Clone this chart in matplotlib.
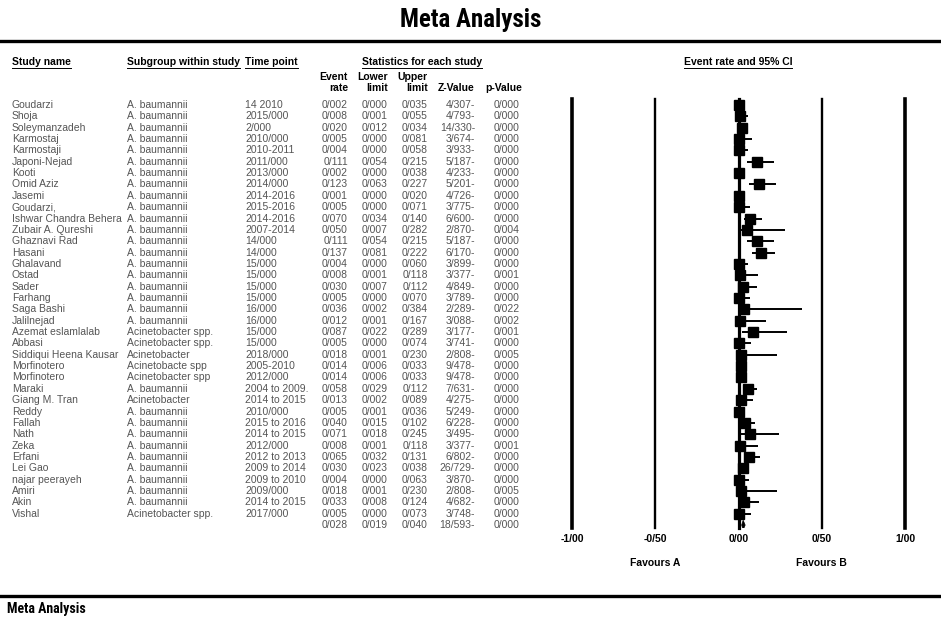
import numpy as np
import matplotlib
matplotlib.use("Agg")
import matplotlib.pyplot as plt
from matplotlib.transforms import blended_transform_factory
from matplotlib.lines import Line2D

# study table
names = ["Goudarzi", "Shoja", "Soleymanzadeh", "Karmostaj", "Karmostaji", "Japoni-Nejad",
         "Kooti", "Omid Aziz", "Jasemi", "Goudarzi,", "Ishwar Chandra Behera",
         "Zubair A. Qureshi", "Ghaznavi Rad", "Hasani", "Ghalavand", "Ostad", "Sader",
         "Farhang", "Saga Bashi", "Jalilnejad", "Azemat eslamlalab", "Abbasi",
         "Siddiqui Heena Kausar", "Morfinotero", "Morfinotero", "Maraki", "Giang M. Tran",
         "Reddy", "Fallah", "Nath", "Zeka", "Erfani", "Lei Gao", "najar peerayeh",
         "Amiri", "Akin", "Vishal"]
subgroups = ["A. baumannii"] * 20 + ["Acinetobacter spp.", "Acinetobacter spp.",
             "Acinetobacter", "Acinetobacte spp", "Acinetobacter spp", "A. baumannii",
             "Acinetobacter"] + ["A. baumannii"] * 9 + ["Acinetobacter spp."]
time_points = ["14 2010", "2015/000", "2/000", "2010/000", "2010-2011", "2011/000",
               "2013/000", "2014/000", "2014-2016", "2015-2016", "2014-2016", "2007-2014",
               "14/000", "14/000", "15/000", "15/000", "15/000", "15/000", "16/000",
               "16/000", "15/000", "15/000", "2018/000", "2005-2010", "2012/000",
               "2004 to 2009.", "2014 to 2015", "2010/000", "2015 to 2016",
               "2014 to 2015", "2012/000", "2012 to 2013", "2009 to 2014",
               "2009 to 2010", "2009/000", "2014 to 2015", "2017/000"]
rate = [0.002, 0.008, 0.020, 0.005, 0.004, 0.111, 0.002, 0.123, 0.001, 0.005, 0.070,
        0.050, 0.111, 0.137, 0.004, 0.008, 0.030, 0.005, 0.036, 0.012, 0.087, 0.005,
        0.018, 0.014, 0.014, 0.058, 0.013, 0.005, 0.040, 0.071, 0.008, 0.065, 0.030,
        0.004, 0.018, 0.033, 0.005]
lower = [0.000, 0.001, 0.012, 0.000, 0.000, 0.054, 0.000, 0.063, 0.000, 0.000, 0.034,
         0.007, 0.054, 0.081, 0.000, 0.001, 0.007, 0.000, 0.002, 0.001, 0.022, 0.000,
         0.001, 0.006, 0.006, 0.029, 0.002, 0.001, 0.015, 0.018, 0.001, 0.032, 0.023,
         0.000, 0.001, 0.008, 0.000]
upper = [0.035, 0.055, 0.034, 0.081, 0.058, 0.215, 0.038, 0.227, 0.020, 0.071, 0.140,
         0.282, 0.215, 0.222, 0.060, 0.118, 0.112, 0.070, 0.384, 0.167, 0.289, 0.074,
         0.230, 0.033, 0.033, 0.112, 0.089, 0.036, 0.102, 0.245, 0.118, 0.131, 0.038,
         0.063, 0.230, 0.124, 0.073]
z_value = [-4.307, -4.793, -14.330, -3.674, -3.933, -5.187, -4.233, -5.201, -4.726,
           -3.775, -6.600, -2.870, -5.187, -6.170, -3.899, -3.377, -4.849, -3.789,
           -2.289, -3.088, -3.177, -3.741, -2.808, -9.478, -9.478, -7.631, -4.275,
           -5.249, -6.228, -3.495, -3.377, -6.802, -26.729, -3.870, -2.808, -4.682,
           -3.748]
p_value = [0.000, 0.000, 0.000, 0.000, 0.000, 0.000, 0.000, 0.000, 0.000, 0.000, 0.000,
           0.004, 0.000, 0.000, 0.000, 0.001, 0.000, 0.000, 0.022, 0.002, 0.001, 0.000,
           0.005, 0.000, 0.000, 0.000, 0.000, 0.000, 0.000, 0.000, 0.001, 0.000, 0.000,
           0.000, 0.005, 0.000, 0.000]

# pooled estimate
pooled = dict(rate=0.028, lower=0.019, upper=0.040, z=-18.593, p=0.000)

ticks = [-1.0, -0.5, 0.0, 0.5, 1.0]
tick_labels = ["-1/00", "-0/50", "0/00", "0/50", "1/00"]


def fmt(v):
    return f"{v:.3f}".replace(".", "/")


def fmt_z(v):
    # minus sign sits on the right in the source
    return fmt(abs(v)) + ("-" if v < 0 else "")


W, H = 941, 621
plt.rcParams['font.family'] = ['Liberation Sans', 'DejaVu Sans']
fig = plt.figure(figsize=(W / 100, H / 100), dpi=100)
FS = 7.5


def fx(px):
    return px / W


def fy(py):
    return 1 - py / H


n = len(names)
rows = np.arange(1, n + 1)

ax = fig.add_axes([fx(572), fy(528), (905 - 572) / W, (528 - 99) / H])
ax.set_xlim(-1, 1)
ax.set_ylim(n + 1.26, 0.47)
for s in ax.spines.values():
    s.set_visible(False)
ax.set_yticks([])
ax.set_xticks(ticks)
ax.set_xticklabels(tick_labels, fontsize=FS, fontweight='bold')
ax.tick_params(axis='x', length=0, pad=4)

for t, lw in zip(ticks, [2.6, 1.7, 2.3, 1.7, 2.6]):
    ax.axvline(t, color='black', lw=lw, clip_on=False)

ax.hlines(rows, lower, upper, color='black', lw=1.4)
ax.plot(rate, rows, 's', color='black', ms=7)

# summary diamond
ys = n + 1
ax.fill([pooled['lower'], pooled['rate'], pooled['upper'], pooled['rate']],
        [ys, ys - 0.42, ys, ys + 0.42], color='black', lw=0.5)

trans_ax = blended_transform_factory(ax.transData, fig.transFigure)
ax.text(-0.5, fy(563), "Favours A", transform=trans_ax, ha='center', va='center',
        fontsize=FS, fontweight='bold')
ax.text(0.5, fy(563), "Favours B", transform=trans_ax, ha='center', va='center',
        fontsize=FS, fontweight='bold')

# table
trans = blended_transform_factory(fig.transFigure, ax.transData)
body = dict(transform=trans, fontsize=FS, color='#555555', va='center')
for i in range(n):
    y = rows[i]
    fig.text(fx(12), y, names[i], ha='left', **body)
    fig.text(fx(127), y, subgroups[i], ha='left', **body)
    fig.text(fx(245), y, time_points[i], ha='left', **body)
    fig.text(fx(348), y, fmt(rate[i]), ha='right', **body)
    fig.text(fx(388), y, fmt(lower[i]), ha='right', **body)
    fig.text(fx(428), y, fmt(upper[i]), ha='right', **body)
    fig.text(fx(475), y, fmt_z(z_value[i]), ha='right', **body)
    fig.text(fx(520), y, fmt(p_value[i]), ha='right', **body)

fig.text(fx(348), ys, fmt(pooled['rate']), ha='right', **body)
fig.text(fx(388), ys, fmt(pooled['lower']), ha='right', **body)
fig.text(fx(428), ys, fmt(pooled['upper']), ha='right', **body)
fig.text(fx(475), ys, fmt_z(pooled['z']), ha='right', **body)
fig.text(fx(520), ys, fmt(pooled['p']), ha='right', **body)

# headers
hdr = dict(fontsize=FS, fontweight='bold', va='center')
heads = [
    fig.text(fx(12), fy(62), "Study name", ha='left', **hdr),
    fig.text(fx(127), fy(62), "Subgroup within study", ha='left', **hdr),
    fig.text(fx(245), fy(62), "Time point", ha='left', **hdr),
    fig.text(fx(422), fy(62), "Statistics for each study", ha='center', **hdr),
    fig.text(fx(738), fy(62), "Event rate and 95% CI", ha='center', **hdr),
]
for x, top, bot in [(348, "Event", "rate"), (388, "Lower", "limit"),
                    (428, "Upper", "limit")]:
    fig.text(fx(x), fy(77), top, ha='right', **hdr)
    fig.text(fx(x), fy(88), bot, ha='right', **hdr)
fig.text(fx(475), fy(88), "Z-Value", ha='right', **hdr)
fig.text(fx(522), fy(88), "p-Value", ha='right', **hdr)

# underline the group headers
fig.canvas.draw()
r = fig.canvas.get_renderer()
for t in heads:
    bb = t.get_window_extent(r)
    fig.add_artist(Line2D([bb.x0 / W, bb.x1 / W], [fy(67.5), fy(67.5)],
                          color='black', lw=0.7))

# title and rules
narrow = ['Roboto Condensed', 'Archivo Narrow', 'Liberation Sans']
fig.text(0.5, fy(20), "Meta Analysis", ha='center', va='center', fontsize=18,
         fontweight='bold', family=narrow)
fig.add_artist(Line2D([0, 1], [fy(41), fy(41)], color='black', lw=2.4))
fig.add_artist(Line2D([0, 1], [fy(596), fy(596)], color='black', lw=2.4))
fig.text(fx(7), fy(609), "Meta Analysis", ha='left', va='center', fontsize=10,
         fontweight='bold', family=narrow)

fig.savefig("out.png", dpi=100)
